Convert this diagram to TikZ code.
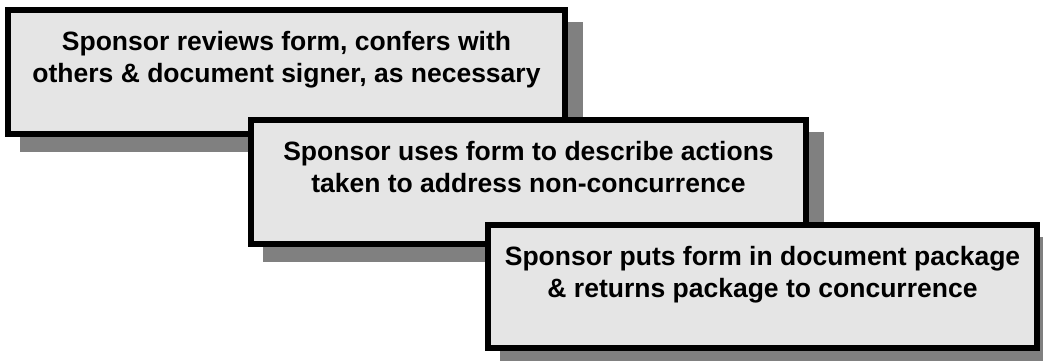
\documentclass[tikz,border=0pt]{standalone}
\usepackage{fontspec}
\setmainfont{Liberation Sans}
\definecolor{boxfill}{RGB}{229,229,229}
\definecolor{shadowc}{RGB}{128,128,128}
\tikzset{
  stepbox/.style={rectangle, draw=black, line width=6pt, fill=boxfill, inner sep=0pt,
    preaction={draw=shadowc, fill=shadowc, line width=6pt,
      transform canvas={xshift=14.5pt, yshift=-14.5pt}}},
  steptext/.style={anchor=north, inner sep=0pt, align=center,
    font=\fontsize{26.5}{32}\selectfont\bfseries}
}
\begin{document}
\begin{tikzpicture}[x=1pt,y=1pt]
\path[use as bounding box, clip] (0,0) rectangle (1043,360);
\node[stepbox, minimum width=557pt, minimum height=124pt] (b1) at (286.5,288) {};
\node[steptext] (t1) at ([yshift=-24pt]b1.north) {Sponsor reviews form, confers with\\others \& document signer, as necessary};
\node[stepbox, minimum width=555pt, minimum height=124pt] (b2) at (528.5,178) {};
\node[steptext] (t2) at ([yshift=-24pt]b2.north) {Sponsor uses form to describe actions\\taken to address non-concurrence};
\node[stepbox, minimum width=549pt, minimum height=123pt] (b3) at (762.5,73.5) {};
\node[steptext] (t3) at ([yshift=-24pt]b3.north) {Sponsor puts form in document package\\\& returns package to concurrence};
\end{tikzpicture}
\end{document}
